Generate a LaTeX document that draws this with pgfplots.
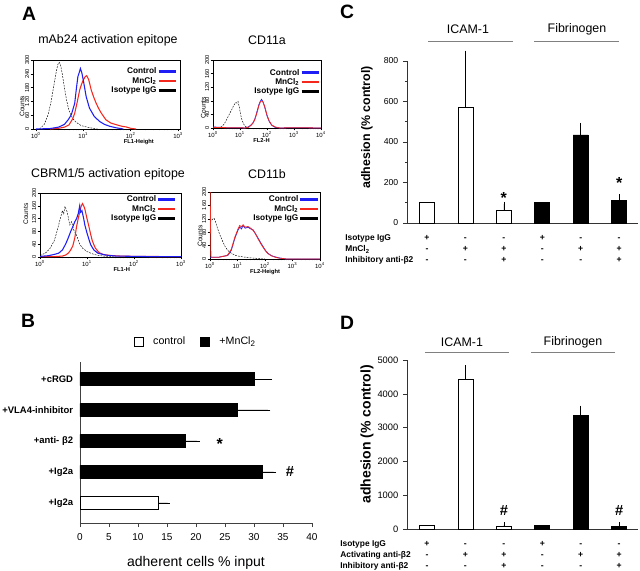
\documentclass[border=0pt]{standalone}
\usepackage{pgfplots}
\pgfplotsset{compat=1.18}
\usepackage{fontspec}
\setmainfont{Liberation Sans}
\definecolor{cblue}{RGB}{30,30,245}
\definecolor{cred}{RGB}{245,40,30}
\tikzset{
 ctl/.style={cblue, line width=0.8pt},
 mn/.style={cred, line width=0.8pt},
 iso/.style={black, line width=0.35pt, dash pattern=on 1.3pt off 0.9pt},
 sgn/.style={font=\bfseries\fontsize{6.5}{7}\selectfont, anchor=base, inner sep=0pt},
 rowlab/.style={font=\bfseries\fontsize{6.3}{7}\selectfont, anchor=base west, inner sep=0pt},
}
\pgfplotsset{
 histo/.style={scale only axis, anchor=south west, ymin=0,
   axis line style={line width=0.45pt}, tick align=outside, xtick pos=bottom, ytick pos=left,
   major tick length=1.8pt, minor tick length=1pt, every tick/.style={black, line width=0.3pt},
   yticklabel style={rotate=90, anchor=south, font=\fontsize{4.3}{5}\selectfont, inner sep=0.8pt},
   xticklabel style={font=\fontsize{4.5}{5}\selectfont, inner sep=0.6pt},
   xlabel style={font=\bfseries\fontsize{4.3}{5}\selectfont, anchor=north, inner sep=0pt},
   ylabel style={font=\fontsize{5}{6}\selectfont, anchor=center, inner sep=0pt},
   ylabel={Counts},
   /pgf/number format/assume math mode=true,
   legend style={draw=none, fill=none, font=\bfseries\fontsize{6.2}{6.8}\selectfont, anchor=north east,
     inner sep=0pt, outer sep=0pt, row sep=0pt, nodes={inner sep=0.6pt, text height=4.6pt, text depth=1.2pt}},
   legend cell align=right, legend plot pos=right,
   legend image code/.code={\draw[##1] (0cm,0cm) -- (0.45cm,0cm);},
 },
 barax/.style={scale only axis, anchor=south west, ybar, bar width=11.25pt,
   xmin=-0.52, xmax=5.49, ymin=0, clip=false,
   axis x line*=bottom, axis y line*=left, xtick=\empty,
   axis line style={black!80, line width=0.5pt},
   tick align=outside, major tick length=3pt, minor tick length=1.6pt,
   every tick/.style={black!80, line width=0.45pt},
   /pgf/number format/assume math mode=true,
   /pgf/number format/1000 sep={},
   error bars/error bar style={black, line width=0.5pt},
   error bars/error mark options={black, line width=0.5pt, mark size=1.8pt},
 },
}
\newcommand{\signrow}[7]{%
  \node[sgn, yshift=#1] at (axis cs:0,0) {#2};
  \node[sgn, yshift=#1] at (axis cs:1,0) {#3};
  \node[sgn, yshift=#1] at (axis cs:2,0) {#4};
  \node[sgn, yshift=#1] at (axis cs:3,0) {#5};
  \node[sgn, yshift=#1] at (axis cs:4,0) {#6};
  \node[sgn, yshift=#1] at (axis cs:5,0) {#7};
}
\begin{document}
\begin{tikzpicture}
\useasboundingbox (0,0) rectangle (480pt,-428.25pt);

% ---------------- Panel A ----------------
\node[font=\bfseries\fontsize{14.5}{16}\selectfont] at (21.75pt,-10.5pt) {A};
\node[font=\fontsize{9.3}{11}\selectfont] at (81pt,-30pt) {mAb24 activation epitope};
\node[font=\fontsize{9.3}{11}\selectfont] at (200.25pt,-30pt) {CD11a};
\node[font=\fontsize{9.3}{11}\selectfont] at (81pt,-130.5pt) {CBRM1/5 activation epitope};
\node[font=\fontsize{9.3}{11}\selectfont] at (200.25pt,-130.5pt) {CD11b};

% A1
\begin{semilogxaxis}[histo, at={(24.75pt,-96.75pt)}, width=110.25pt, height=51.75pt,
  xmin=0.87, xmax=1096, ymax=300, ytick={0,60,...,300},
  xtick={1,10,100,1000}, xticklabels={10\textsuperscript{0},10\textsuperscript{1},10\textsuperscript{2},10\textsuperscript{3}},
  xlabel={FL1-Height}, xlabel style={at={(axis description cs:0.72,0)}, yshift=-7.8pt},
  ylabel style={at={(axis description cs:-0.075,0.33)}},
  legend style={at={(0.98,0.9)}}]
\addlegendimage{cblue, line width=2pt}\addlegendentry{Control}
\addlegendimage{cred, line width=2pt}\addlegendentry{MnCl\textsubscript{2}}
\addlegendimage{black, line width=2pt}\addlegendentry{Isotype IgG}
\addplot[iso, forget plot] coordinates {(1.2,0)(1.5,20)(1.8,60)(2.1,120)(2.4,190)(2.7,250)(2.9,280)(3.1,290)(3.3,280)(3.6,240)(4.0,180)(4.5,120)(5,80)(6,45)(7,30)(9,15)(12,8)(16,3)(20,0)};
\addplot[mn, forget plot] coordinates {(2,0)(3,3)(4,8)(5,18)(6,45)(6.6,69)(7.5,120)(8.4,170)(9.2,195)(10,213)(11,228)(11.8,232)(13,215)(14.7,170)(16.5,140)(18.7,112)(21,90)(24,69)(30,40)(38,26)(49,19)(65,12)(80,9)(100,3)(130,0)};
\addplot[ctl, forget plot] coordinates {(1,0)(2,2)(3,8)(4,20)(4.8,40)(5.6,62)(6.6,112)(7.1,170)(7.7,228)(8.2,245)(8.7,263)(9.3,245)(10,213)(11.5,141)(13.5,91)(17,55)(22,33)(28,20)(36,12)(50,5)(70,0)};
\end{semilogxaxis}

% A2
\begin{semilogxaxis}[histo, at={(159.75pt,-96pt)}, width=81pt, height=51pt,
  xmin=1, xmax=10000, ymax=200, ytick={0,40,...,200},
  xtick={1,10,100,1000,10000}, xticklabels={10\textsuperscript{0},10\textsuperscript{1},10\textsuperscript{2},10\textsuperscript{3},10\textsuperscript{4}},
  xlabel={FL2-H}, xlabel style={at={(axis description cs:0.45,0)}, yshift=-7.8pt},
  ylabel style={at={(axis description cs:-0.09,0.3)}},
  legend style={at={(0.99,0.88)}}]
\addlegendimage{cblue, line width=2pt}\addlegendentry{Control}
\addlegendimage{cred, line width=2pt}\addlegendentry{MnCl\textsubscript{2}}
\addlegendimage{black, line width=2pt}\addlegendentry{Isotype IgG}
\addplot[iso, forget plot] coordinates {(1.5,0)(2,3)(2.5,10)(3,20)(4,40)(5,55)(6,68)(7,75)(7.8,73)(8.5,78)(9.5,60)(10.5,40)(12,22)(14,10)(17,3)(22,0)};
\addplot[ctl, line width=0.6pt, forget plot] coordinates {(1,3)(3,1)(10,1)(15,0)(20,3)(25,8)(30,15)(35,25)(40,40)(45,55)(50,68)(56,78)(63,84)(70,78)(80,65)(90,50)(100,36)(120,20)(150,8)(200,2)(300,0)(1000,1)(10000,0)};
\addplot[mn, line width=0.6pt, forget plot] coordinates {(1,2)(3,1)(10,1)(15,0)(20,2)(25,7)(30,14)(35,24)(40,38)(45,52)(50,66)(56,76)(63,80)(70,77)(80,66)(90,52)(100,38)(120,21)(150,9)(200,3)(300,0)(1000,1)(10000,0)};
\end{semilogxaxis}

% A3
\begin{semilogxaxis}[histo, at={(30pt,-192.75pt)}, width=105.75pt, height=48pt,
  xmin=1, xmax=1000, ymax=200, ytick={0,40,...,200},
  xtick={1,10,100,1000}, xticklabels={10\textsuperscript{0},10\textsuperscript{1},10\textsuperscript{2},10\textsuperscript{3}},
  xlabel={FL1-H}, xlabel style={at={(axis description cs:0.58,0)}, yshift=-7.8pt},
  ylabel style={at={(axis description cs:-0.1,0.67)}},
  legend style={at={(0.97,0.97)}}]
\addlegendimage{cblue, line width=2pt}\addlegendentry{Control}
\addlegendimage{cred, line width=2pt}\addlegendentry{MnCl\textsubscript{2}}
\addlegendimage{black, line width=2pt}\addlegendentry{Isotype IgG}
\addplot[iso, forget plot] coordinates {(1,5)(1.3,12)(1.6,25)(2,50)(2.3,80)(2.7,120)(3.0,145)(3.2,135)(3.4,158)(3.8,140)(4.3,100)(4.7,110)(5.2,85)(6,68)(7,40)(8,28)(10,17)(13,10)(16,6)(25,2)(40,0)};
\addplot[mn, forget plot] coordinates {(1,1)(2,1)(3,3)(3.5,6)(4,12)(4.5,22)(5,35)(5.5,60)(6,95)(6.5,120)(7,140)(7.5,158)(8,167)(8.5,160)(9,150)(10,120)(11,95)(12,70)(13,50)(15,28)(18,14)(22,8)(30,5)(50,3)(100,2)(1000,1)};
\addplot[ctl, forget plot] coordinates {(1,2)(1.5,4)(2,8)(2.5,12)(3,22)(3.5,40)(4,60)(4.5,80)(5,95)(5.5,110)(6,120)(6.5,135)(7,160)(7.3,140)(7.8,145)(8.5,120)(9,100)(10,75)(11,55)(12,38)(14,22)(17,12)(25,6)(40,3)(100,2)(300,1)(1000,1)};
\end{semilogxaxis}

% A4
\begin{semilogxaxis}[histo, at={(157.5pt,-194.25pt)}, width=82.5pt, height=50.25pt,
  xmin=1, xmax=10000, ymax=200, ytick={0,40,...,200},
  xtick={1,10,100,1000,10000}, xticklabels={10\textsuperscript{0},10\textsuperscript{1},10\textsuperscript{2},10\textsuperscript{3},10\textsuperscript{4}},
  xlabel={FL2-Height}, xlabel style={at={(axis description cs:0.5,0)}, yshift=-7.8pt},
  ylabel style={at={(axis description cs:-0.09,0.34)}},
  legend style={at={(0.99,0.955)}}]
\addlegendimage{cblue, line width=2pt}\addlegendentry{Control}
\addlegendimage{cred, line width=2pt}\addlegendentry{MnCl\textsubscript{2}}
\addlegendimage{black, line width=2pt}\addlegendentry{Isotype IgG}
\addplot[iso, forget plot] coordinates {(1,110)(1.2,118)(1.4,122)(1.6,110)(1.9,90)(2.3,72)(2.8,55)(3.5,38)(4.5,25)(6,17)(9,10)(14,7)(25,4)(50,2)(100,0)};
\addplot[ctl, line width=0.6pt, forget plot] coordinates {(1,5)(2,5)(3,8)(4,10)(4.6,12)(6,27)(8,62)(10.5,87)(12,95)(14,90)(16,100)(19,92)(24,95)(30,90)(37,87)(45,75)(56,62)(70,48)(85,37)(105,25)(128,17)(170,10)(220,7)(300,4)(390,2)(600,0)(10000,0)};
\addplot[mn, line width=0.6pt, forget plot] coordinates {(1,250)(1.08,5)(2,5)(3,8)(4,10)(4.6,14)(6,30)(8,65)(10.5,90)(12,100)(14,96)(16,102)(19,95)(24,97)(30,92)(37,85)(45,76)(56,60)(70,46)(85,35)(105,24)(128,16)(170,10)(220,6)(300,3)(390,2)(600,0)(10000,0)};
\end{semilogxaxis}

% ---------------- Panel B ----------------
\node[font=\bfseries\fontsize{14.5}{16}\selectfont] at (21pt,-240.75pt) {B};
\begin{axis}[at={(60pt,-392.25pt)}, anchor=south west, scale only axis, width=174pt, height=120.75pt,
  xbar, bar width=10pt, xmin=0, xmax=40, ymin=-0.65, ymax=4.55, clip=false,
  axis x line*=bottom, axis y line*=left,
  axis line style={black!75, line width=0.5pt},
  xtick={0,5,...,40}, ytick={0,...,4},
  yticklabels={+Ig2a,+Ig2a,+anti- β2,+VLA4-inhibitor,+cRGD},
  tick align=outside, major tick length=3pt,
  ytick style={draw=none}, xtick style={black!75, line width=0.45pt},
  /pgf/number format/assume math mode=true,
  xticklabel style={font=\fontsize{7.5}{9}\selectfont, yshift=-1.5pt},
  yticklabel style={font=\bfseries\fontsize{7.1}{9}\selectfont, inner sep=2pt},
  xlabel={adherent cells \% input}, xlabel style={font=\fontsize{10.5}{12}\selectfont, yshift=-5pt},
  error bars/error bar style={black, line width=0.5pt},
  error bars/error mark options={black, line width=0.5pt, mark size=1.8pt},
  legend columns=2,
  legend style={draw=none, fill=none, at={(0.5,1.125)}, anchor=center, font=\fontsize{8}{9}\selectfont,
    /tikz/every even column/.append style={column sep=9pt}},
  legend image code/.code={\draw[#1, draw=black, line width=0.5pt] (0pt,-3.6pt) rectangle (7.2pt,3.6pt);},
  ]
\addplot[fill=white, draw=black, line width=0.5pt, bar shift=0pt,
  error bars/.cd, x dir=plus, x explicit] coordinates {(13.5,0) +- (1.6,0)};
\addplot[fill=black, draw=black, line width=0.5pt, bar shift=0pt,
  error bars/.cd, x dir=plus, x explicit] coordinates {(31.4,1) +- (2.0,0) (18.2,2) +- (2.0,0) (27.2,3) +- (5.2,0) (30.1,4) +- (2.6,0)};
\legend{\hspace{5pt}control, \hspace{5pt}+MnCl\textsubscript{2}}
\node[font=\bfseries\fontsize{12}{12}\selectfont, yshift=-2.5pt] at (axis cs:24.1,2) {*};
\node[font=\bfseries\fontsize{11}{12}\selectfont] at (axis cs:36.2,1) {\#};
\end{axis}

% ---------------- Panel C ----------------
\node[font=\bfseries\fontsize{14.5}{16}\selectfont] at (260.25pt,-9pt) {C};
\node[font=\fontsize{9.3}{11}\selectfont] at (351pt,-21.75pt) {ICAM-1};
\node[font=\fontsize{9.3}{11}\selectfont] at (432.75pt,-21.75pt) {Fibrinogen};
\draw[black!50, line width=0.6pt] (321pt,-30.75pt) -- (384.75pt,-30.75pt);
\draw[black!50, line width=0.6pt] (400.5pt,-30.75pt) -- (464.25pt,-30.75pt);
\begin{axis}[barax, at={(305.25pt,-167.25pt)}, width=173.25pt, height=121.5pt,
  ymax=800, ytick={0,200,...,800}, minor y tick num=1,
  yticklabel style={font=\fontsize{6.5}{8}\selectfont},
  ylabel={adhesion (\% control)},
  ylabel style={font=\bfseries\fontsize{9.3}{11}\selectfont, at={(axis description cs:-0.173,0.59)}, anchor=center}]
\addplot[fill=white, draw=black, line width=0.55pt, bar shift=0pt] coordinates {(0,100)};
\addplot[fill=white, draw=black, line width=0.55pt, bar shift=0pt,
  error bars/.cd, y dir=plus, y explicit] coordinates {(1,573) +- (0,267) (2,62) +- (0,31)};
\addplot[fill=black, draw=black, line width=0.55pt, bar shift=0pt] coordinates {(3,100)};
\addplot[fill=black, draw=black, line width=0.55pt, bar shift=0pt,
  error bars/.cd, y dir=plus, y explicit] coordinates {(4,435) +- (0,47) (5,113) +- (0,17)};
\node[font=\bfseries\fontsize{12}{12}\selectfont, anchor=base, inner sep=0pt] at (axis cs:2,95) {*};
\node[font=\bfseries\fontsize{12}{12}\selectfont, anchor=base, inner sep=0pt] at (axis cs:5,169) {*};
\signrow{-13.4pt}{+}{-}{-}{+}{-}{-}
\signrow{-21.6pt}{-}{+}{+}{-}{+}{+}
\signrow{-29.9pt}{-}{-}{+}{-}{-}{+}
\end{axis}
\node[rowlab] at (258.75pt,-180.65pt) {Isotype IgG};
\node[rowlab] at (258.75pt,-188.85pt) {MnCl\textsubscript{2}};
\node[rowlab] at (258.75pt,-197.15pt) {Inhibitory anti-β2};

% ---------------- Panel D ----------------
\node[font=\bfseries\fontsize{14.5}{16}\selectfont] at (260.25pt,-242.25pt) {D};
\node[font=\fontsize{9.3}{11}\selectfont] at (346.5pt,-256.5pt) {ICAM-1};
\node[font=\fontsize{9.3}{11}\selectfont] at (429.75pt,-256.5pt) {Fibrinogen};
\draw[black!50, line width=0.6pt] (318.75pt,-264pt) -- (381.75pt,-264pt);
\draw[black!50, line width=0.6pt] (398.25pt,-264pt) -- (461.25pt,-264pt);
\begin{axis}[barax, at={(305.25pt,-396.75pt)}, width=173.25pt, height=126.75pt,
  ymax=5000, ytick={0,1000,...,5000},
  yticklabel style={font=\fontsize{7}{8}\selectfont},
  ylabel={adhesion (\% control)},
  ylabel style={font=\bfseries\fontsize{10.5}{12}\selectfont, at={(axis description cs:-0.173,0.56)}, anchor=center}]
\addplot[fill=white, draw=black, line width=0.55pt, bar shift=0pt] coordinates {(0,100)};
\addplot[fill=white, draw=black, line width=0.55pt, bar shift=0pt,
  error bars/.cd, y dir=plus, y explicit] coordinates {(1,4430) +- (0,340) (2,90) +- (0,35)};
\addplot[fill=black, draw=black, line width=0.55pt, bar shift=0pt] coordinates {(3,100)};
\addplot[fill=black, draw=black, line width=0.55pt, bar shift=0pt,
  error bars/.cd, y dir=plus, y explicit] coordinates {(4,3360) +- (0,220) (5,85) +- (0,40)};
\node[font=\bfseries\fontsize{11}{12}\selectfont] at (axis cs:2,562) {\#};
\node[font=\bfseries\fontsize{11}{12}\selectfont] at (axis cs:5,562) {\#};
\signrow{-13.4pt}{+}{-}{-}{+}{-}{-}
\signrow{-21.6pt}{-}{+}{+}{-}{+}{+}
\signrow{-29.9pt}{-}{-}{+}{-}{-}{+}
\end{axis}
\node[rowlab] at (255pt,-410.15pt) {Isotype IgG};
\node[rowlab] at (255pt,-418.35pt) {Activating anti-β2};
\node[rowlab] at (255pt,-426.65pt) {Inhibitory anti-β2};
\end{tikzpicture}
\end{document}
